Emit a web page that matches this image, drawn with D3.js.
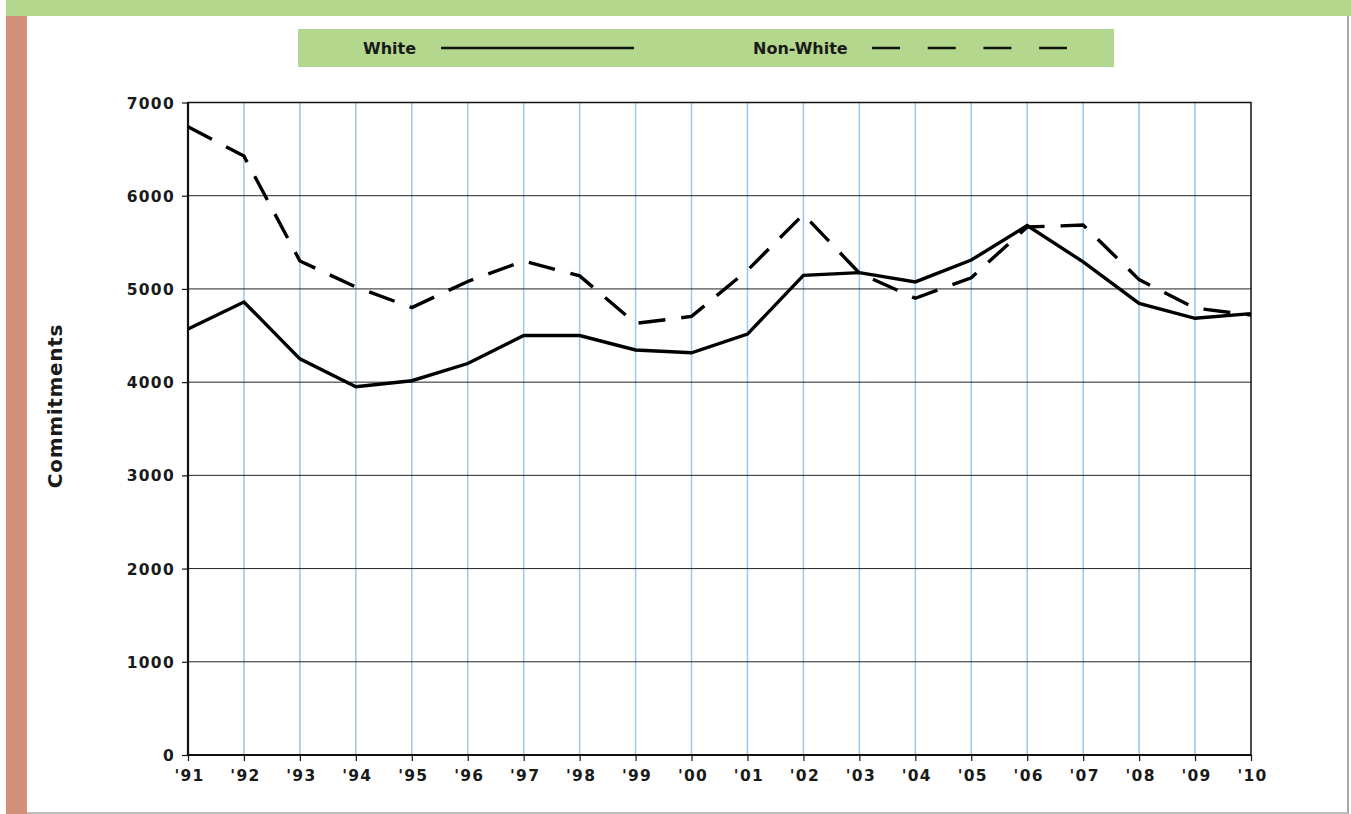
<!DOCTYPE html>
<html><head><meta charset="utf-8">
<script src="https://cdn.jsdelivr.net/npm/d3@7"></script>
<style>
html,body{margin:0;padding:0;background:#fff;}
svg{display:block;}
text{font-family:"DejaVu Sans",Verdana,sans-serif;font-weight:bold;fill:#1a1a1a;}
</style></head>
<body>
<script>
const years = ["'91","'92","'93","'94","'95","'96","'97","'98","'99","'00","'01","'02","'03","'04","'05","'06","'07","'08","'09","'10"];
const white = [4570,4860,4250,3950,4015,4200,4500,4500,4345,4315,4515,5145,5175,5075,5310,5680,5290,4845,4685,4735];
const nonWhite = [6740,6425,5300,5020,4800,5080,5300,5140,4630,4705,5200,5800,5170,4900,5120,5665,5685,5100,4795,4720];
const yTicks = [0,1000,2000,3000,4000,5000,6000,7000];
const seriesNames = ["White","Non-White"];

const W = 1351, H = 814;
const svg = d3.select("body").append("svg").attr("width", W).attr("height", H);

// frame decorations
svg.append("rect").attr("x",6).attr("y",0).attr("width",W-6).attr("height",16).attr("fill","#b3d78c");
svg.append("rect").attr("x",6).attr("y",16).attr("width",21).attr("height",H-16).attr("fill","#d4917a");
svg.append("line").attr("x1",1348).attr("x2",1348).attr("y1",16).attr("y2",H).attr("stroke","#a8a8a8").attr("stroke-width",2);
svg.append("line").attr("x1",27).attr("x2",1348).attr("y1",813).attr("y2",813).attr("stroke","#bdbdbd").attr("stroke-width",2);

const pLeft = 188, pRight = 1251, pTop = 102.5, pBottom = 755;
const x = d3.scalePoint().domain(years).range([pLeft, pRight]);
const y = d3.scaleLinear().domain([0,7000]).range([pBottom, pTop]);

// vertical light-blue grid
svg.append("g").selectAll("line").data(years.slice(1, -1)).join("line")
  .attr("x1", d => x(d)).attr("x2", d => x(d)).attr("y1", pTop).attr("y2", pBottom)
  .attr("stroke","#9ccaf0").attr("stroke-width",1.6);

// horizontal grid
svg.append("g").selectAll("line").data(yTicks.slice(1, -1)).join("line")
  .attr("x1", pLeft).attr("x2", pRight).attr("y1", d => y(d)).attr("y2", d => y(d))
  .attr("stroke","#222").attr("stroke-width",1);

// frame
svg.append("rect").attr("x",pLeft).attr("y",pTop).attr("width",pRight-pLeft).attr("height",pBottom-pTop)
  .attr("fill","none").attr("stroke","#111").attr("stroke-width",1.5);
svg.append("line").attr("x1",pLeft).attr("x2",pLeft).attr("y1",pTop).attr("y2",pBottom).attr("stroke","#111").attr("stroke-width",2.2);
svg.append("line").attr("x1",pLeft).attr("x2",pRight).attr("y1",pBottom).attr("y2",pBottom).attr("stroke","#111").attr("stroke-width",2.2);

// axes
const yAxis = d3.axisLeft(y).tickValues(yTicks).tickSize(6).tickPadding(8).tickFormat(d3.format("d"));
const gy = svg.append("g").attr("transform",`translate(${pLeft},0)`).call(yAxis);
gy.select(".domain").remove();
gy.selectAll(".tick line").attr("stroke","#111").attr("stroke-width",1.2);
gy.selectAll(".tick text").attr("font-size",15.5).attr("letter-spacing","1.3px")
  .attr("font-family","DejaVu Sans").attr("font-weight","bold").attr("fill","#1a1a1a").attr("dy","0.36em").attr("dx","1px");

const xAxis = d3.axisBottom(x).tickSize(6).tickPadding(9);
const gx = svg.append("g").attr("transform",`translate(0,${pBottom})`).call(xAxis);
gx.select(".domain").remove();
gx.selectAll(".tick line").attr("stroke","#111").attr("stroke-width",1.2);
gx.selectAll(".tick text").attr("font-size",15.5).attr("letter-spacing","1.3px")
  .attr("font-family","DejaVu Sans").attr("font-weight","bold").attr("fill","#1a1a1a").attr("dx","1px");

// y label
svg.append("text").attr("transform","translate(62,406) rotate(-90)").attr("text-anchor","middle")
  .attr("font-size",20).attr("letter-spacing","0.7px").text("Commitments");

// lines
const line = d3.line().x((d,i) => x(years[i])).y(d => y(d));
svg.append("path").datum(white).attr("d", line).attr("fill","none").attr("stroke","#000")
  .attr("stroke-width",3.4).attr("stroke-linejoin","miter");
svg.append("path").datum(nonWhite).attr("d", line).attr("fill","none").attr("stroke","#000")
  .attr("stroke-width",3.4).attr("stroke-dasharray","27,16").attr("stroke-linejoin","miter");

// legend
svg.append("rect").attr("x",298).attr("y",29).attr("width",816).attr("height",38).attr("fill","#b3d78c");
svg.append("text").attr("x",363).attr("y",54).attr("font-size",16).attr("fill","#222").text(seriesNames[0]);
svg.append("line").attr("x1",441).attr("x2",634).attr("y1",48).attr("y2",48).attr("stroke","#111").attr("stroke-width",2.5);
svg.append("text").attr("x",753).attr("y",54).attr("font-size",16).attr("fill","#222").text(seriesNames[1]);
svg.append("line").attr("x1",872).attr("x2",1067).attr("y1",48).attr("y2",48).attr("stroke","#111").attr("stroke-width",2.5)
  .attr("stroke-dasharray","28,27.7");
</script>
</body></html>
